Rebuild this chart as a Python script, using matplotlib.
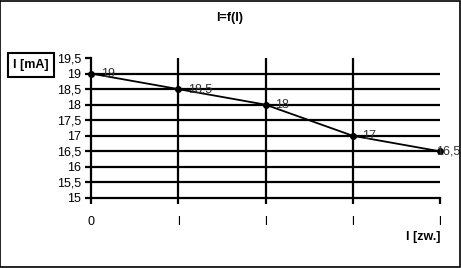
import matplotlib
matplotlib.use('Agg')
import matplotlib.pyplot as plt
from matplotlib.patches import Rectangle

# punkty pomiarowe
x_pos = [0, 1, 2, 3, 4]
x_labels = ['0', 'l', 'l', 'l', 'l']
i_ma = [19, 18.5, 18, 17, 16.5]
point_labels = ['19', '18,5', '18', '17', '16,5']
y_ticks = [15, 15.5, 16, 16.5, 17, 17.5, 18, 18.5, 19, 19.5]

plt.rcParams['font.family'] = ['Liberation Sans', 'DejaVu Sans']
plt.rcParams['font.size'] = 9

fig = plt.figure(figsize=(4.61, 2.68), dpi=100)
ax = fig.add_axes([91 / 461, 1 - 198 / 268, 349 / 461, 140 / 268])

ax.set_xlim(0, 4)
ax.set_ylim(15, 19.5)

# siatka
for y in y_ticks[1:-1]:
    ax.axhline(y, color='black', lw=1.6, zorder=1)
for x in x_pos[1:-1]:
    ax.axvline(x, color='black', lw=1.6, zorder=1)

ax.plot(x_pos, i_ma, color='black', lw=1.3, marker='o', markersize=4, zorder=3, clip_on=False)

for k, (x, y, t) in enumerate(zip(x_pos, i_ma, point_labels)):
    dx = 7 if k < len(x_pos) - 1 else -3
    ax.annotate(t, (x, y), xytext=(dx, 0), textcoords='offset points',
                ha='left', va='center', fontsize=9, color='#333333', zorder=4,
                annotation_clip=False)

ax.set_xticks(x_pos)
ax.set_xticklabels(x_labels)
ax.set_yticks(y_ticks)
ax.set_yticklabels([str(v).replace('.', ',') if v % 1 else str(int(v)) for v in y_ticks])

for s in ['top', 'right']:
    ax.spines[s].set_visible(False)
for s in ['left', 'bottom']:
    ax.spines[s].set_linewidth(1.6)
ax.tick_params(axis='both', direction='out', length=4, width=1.6, labelsize=9)
ax.tick_params(axis='x', pad=9)
ax.tick_params(axis='y', pad=3)

fig.text(230 / 461, 1 - 18 / 268, 'I=f(I)', ha='center', va='center',
         fontsize=9, fontweight='bold')
fig.text(31 / 461, 1 - 65 / 268, 'I [mA]', ha='center', va='center',
         fontsize=9, fontweight='bold',
         bbox=dict(boxstyle='square,pad=0.45', fc='white', ec='black', lw=1.5))
fig.text(440 / 461, 1 - 237 / 268, 'l [zw.]', ha='right', va='center',
         fontsize=9, fontweight='bold')

fig.patches.append(Rectangle((0.001, 0.002), 0.997, 0.995, transform=fig.transFigure,
                             fill=False, ec='black', lw=1.2))

fig.savefig('out.png', dpi=100)
